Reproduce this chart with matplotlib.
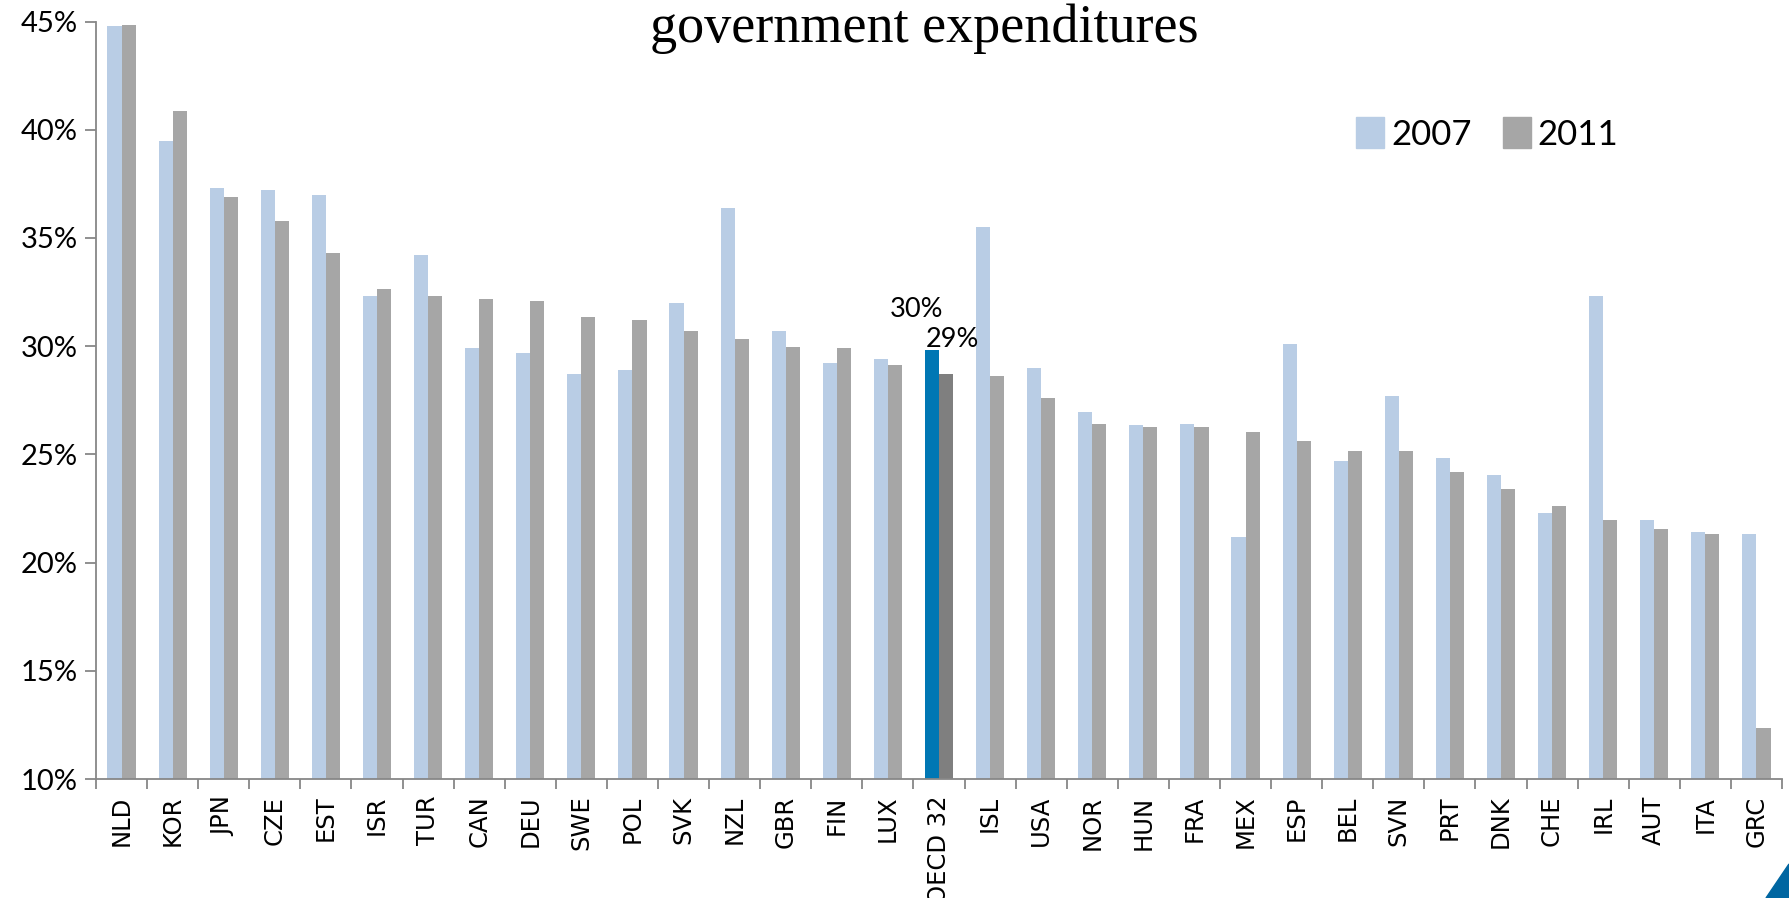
import matplotlib
matplotlib.use("Agg")
import matplotlib.pyplot as plt
from matplotlib.patches import Patch, Polygon
import numpy as np

countries = ["NLD", "KOR", "JPN", "CZE", "EST", "ISR", "TUR", "CAN", "DEU", "SWE",
             "POL", "SVK", "NZL", "GBR", "FIN", "LUX", "OECD 32", "ISL", "USA", "NOR",
             "HUN", "FRA", "MEX", "ESP", "BEL", "SVN", "PRT", "DNK", "CHE", "IRL",
             "AUT", "ITA", "GRC"]
val2007 = [44.8, 39.5, 37.3, 37.2, 37.0, 32.3, 34.2, 29.9, 29.7, 28.7,
           28.9, 32.0, 36.4, 30.7, 29.2, 29.4, 29.8, 35.5, 29.0, 26.95,
           26.35, 26.4, 21.2, 30.1, 24.7, 27.7, 24.85, 24.05, 22.3, 32.3,
           21.95, 21.4, 21.3]
val2011 = [44.85, 40.85, 36.9, 35.8, 34.3, 32.65, 32.3, 32.2, 32.1, 31.35,
           31.2, 30.7, 30.35, 29.95, 29.9, 29.15, 28.7, 28.6, 27.6, 26.4,
           26.25, 26.25, 26.05, 25.6, 25.15, 25.15, 24.2, 23.4, 22.6, 21.95,
           21.55, 21.3, 12.35]
highlight = "OECD 32"
years = ["2007", "2011"]

c07, c11 = "#B9CDE5", "#A6A6A6"
c07_hi, c11_hi = "#0077B4", "#7F7F7F"

fig = plt.figure(figsize=(17.89, 8.98), dpi=100)
ax = fig.add_axes([96 / 1789, 1 - 779 / 898, (1782 - 96) / 1789, (779 - 21.5) / 898])

x = np.arange(len(countries))
w = 0.275
cols07 = [c07_hi if c == highlight else c07 for c in countries]
cols11 = [c11_hi if c == highlight else c11 for c in countries]
ax.bar(x - w / 2, val2007, width=w, color=cols07, bottom=0)
ax.bar(x + w / 2, val2011, width=w, color=cols11, bottom=0)

ax.set_ylim(10, 45)
ax.set_xlim(-0.5, len(countries) - 0.5)
ax.set_yticks(np.arange(10, 46, 5))
ax.set_yticklabels([f"{v}%" for v in range(10, 46, 5)], fontfamily="Lato", fontsize=21)

ax.set_xticks(x)
ax.set_xticklabels(countries, rotation=90, fontfamily="DejaVu Sans", fontsize=17.5, va="top")
ax.tick_params(axis="x", length=0, pad=12)
ax.set_xticks(np.arange(len(countries) + 1) - 0.5, minor=True)
ax.tick_params(axis="x", which="minor", length=7, color="#878787", width=1.3)
ax.tick_params(axis="y", length=8, color="#878787", width=1.3, pad=5)

for s in ["top", "right"]:
    ax.spines[s].set_visible(False)
for s in ["left", "bottom"]:
    ax.spines[s].set_color("#878787")
    ax.spines[s].set_linewidth(1.3)

# data labels for the OECD average
i = countries.index(highlight)
ax.annotate(f"{val2007[i]:.0f}%", (i - w / 2, val2007[i]), xytext=(-15, 41),
            textcoords="offset pixels", ha="center", va="center",
            fontfamily="Lato", fontsize=19.5)
ax.annotate(f"{val2011[i]:.0f}%", (i + w / 2, val2011[i]), xytext=(6, 35),
            textcoords="offset pixels", ha="center", va="center",
            fontfamily="Lato", fontsize=19.5)

handles = [Patch(color=c07, label=years[0]), Patch(color=c11, label=years[1])]
ax.legend(handles=handles, loc="upper left", bbox_to_anchor=(1325 / 1789, 1 - 86 / 898),
          bbox_transform=fig.transFigure, ncol=2, frameon=False,
          prop={"family": "Lato", "size": 25}, handlelength=0.8, handleheight=1.0,
          handletextpad=0.2, columnspacing=0.9)

fig.text(924 / 1789, 1 - 42 / 898, "government expenditures", ha="center", va="baseline",
         fontfamily="Liberation Serif", fontsize=39)

fig.patches.append(Polygon([[1766 / 1789, 0], [1, 34 / 898], [1, 0]], closed=True,
                           transform=fig.transFigure, color="#0066A1"))

fig.savefig("out.png", dpi=100)
